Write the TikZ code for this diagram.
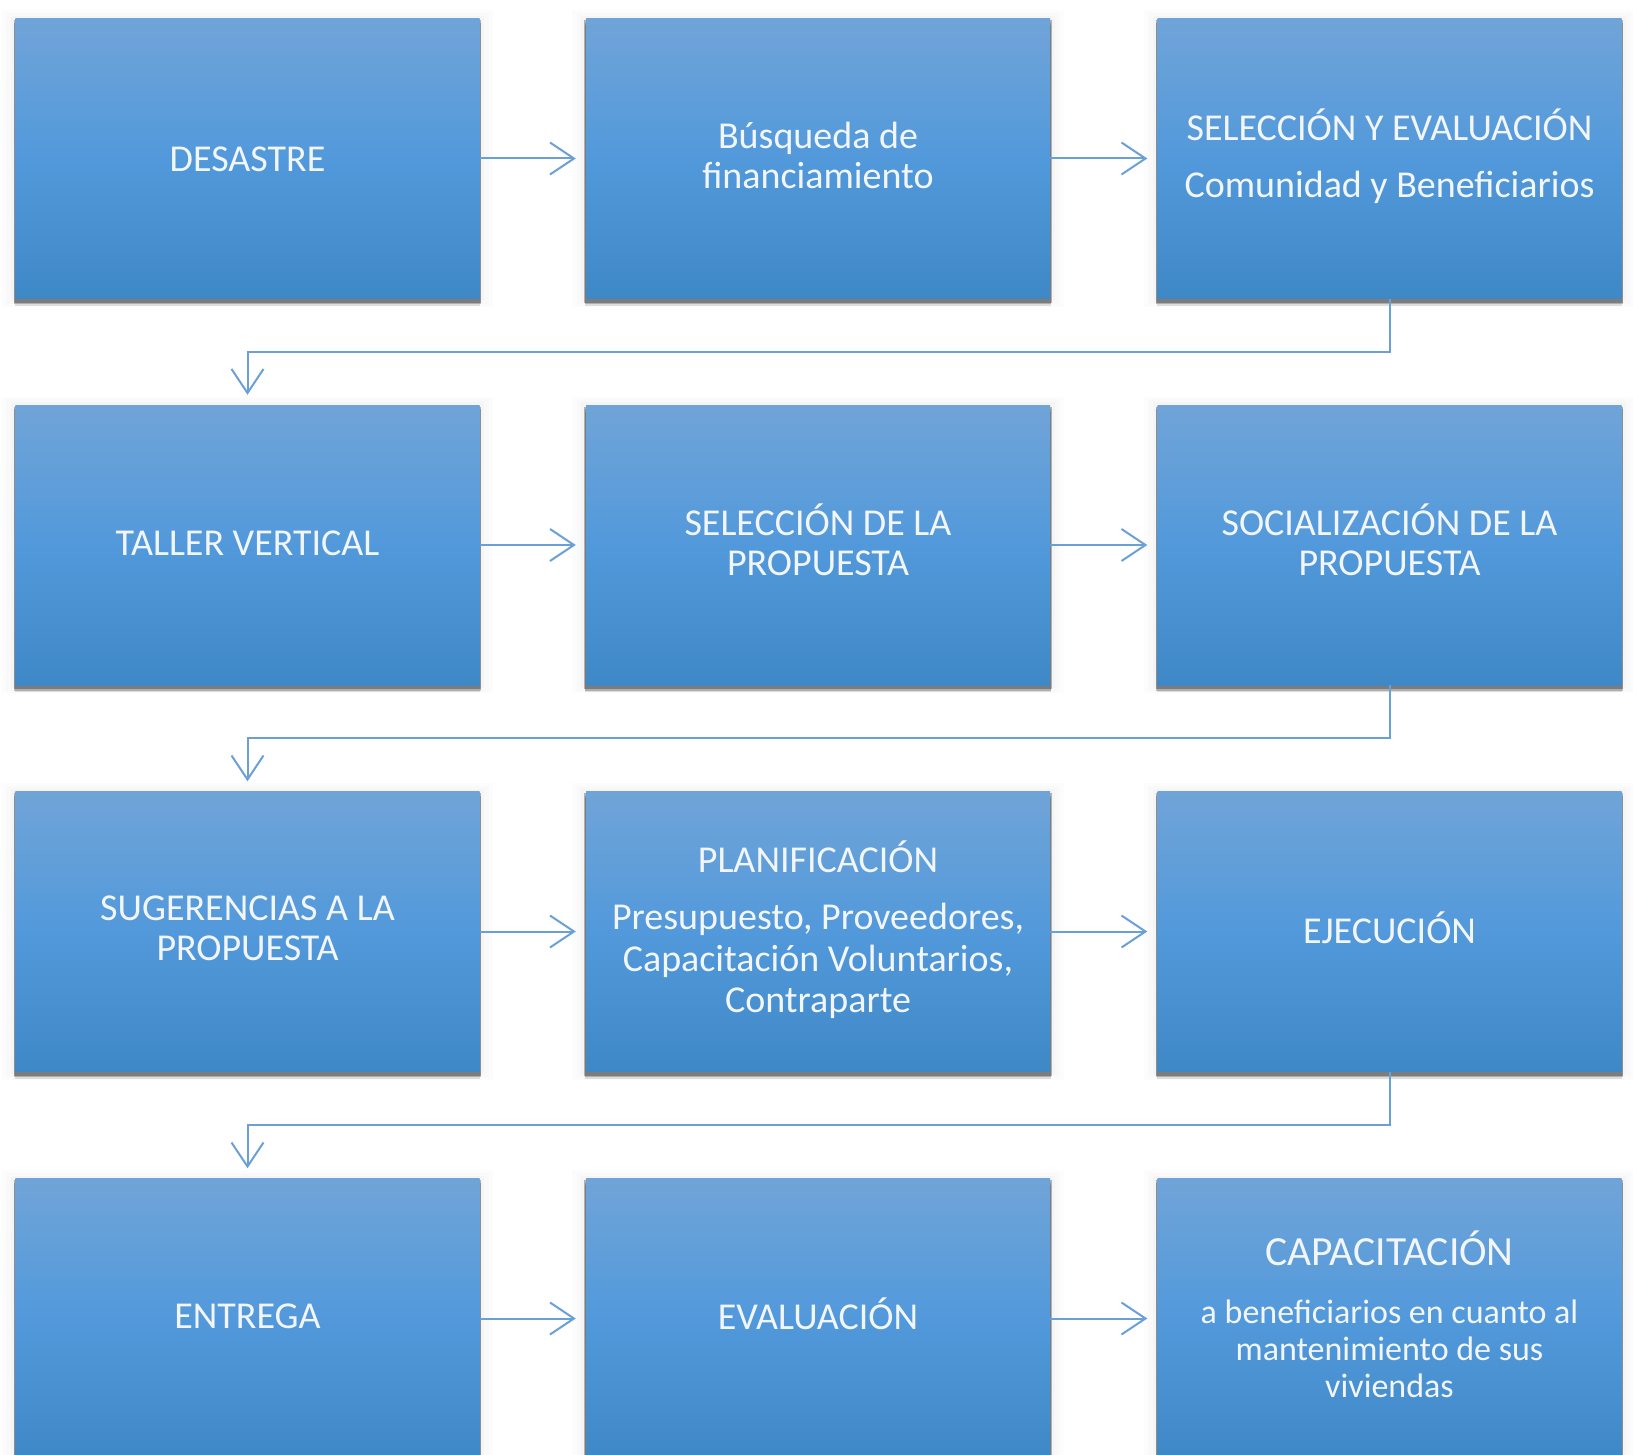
\documentclass[tikz,border=0pt]{standalone}
\usepackage{fontspec}
\setmainfont{Carlito}
\usetikzlibrary{arrows.meta,shadows,calc}
\definecolor{boxtop}{RGB}{112,164,216}
\definecolor{boxmid}{RGB}{82,153,219}
\definecolor{boxbot}{RGB}{63,136,198}
\definecolor{linkc}{RGB}{106,160,214}
\definecolor{txt}{RGB}{242,246,251}
\tikzset{
  stepbox/.style={minimum width=464bp, minimum height=280bp, inner sep=0pt,
    top color=boxtop, bottom color=boxbot, middle color=boxmid,
    general shadow={fill=black, opacity=.012, shadow scale=1.06},
    general shadow={fill=black, opacity=.012, shadow scale=1.04},
    general shadow={fill=black, opacity=.015, shadow scale=1.02},
    general shadow={fill=black, opacity=.12, shadow yshift=-7bp, shadow scale=1.003},
    general shadow={fill=black, opacity=.2, shadow yshift=-5bp, shadow scale=1.006},
    general shadow={fill=black, opacity=.28, shadow yshift=-3bp, shadow scale=1.008}},
  lbl/.style={text=txt, align=center, inner sep=0pt, font=\fontsize{38bp}{40bp}\selectfont},
  link/.style={draw=linkc, line width=2bp,
    -{Straight Barb[length=24bp,width=32bp,line width=2bp]}, shorten >=10bp}
}
\begin{document}
\begin{tikzpicture}[x=1bp,y=-1bp]
\clip (0,0) rectangle (1633,1455);
\fill[white] (0,0) rectangle (1633,1455);
% boxes
\node[stepbox] (a1) at (247.5,158.5) {};
\node[stepbox] (a2) at (818,158.5) {};
\node[stepbox] (a3) at (1389.5,158.5) {};
\node[stepbox] (b1) at (247.5,545) {};
\node[stepbox] (b2) at (818,545) {};
\node[stepbox] (b3) at (1389.5,545) {};
\node[stepbox] (c1) at (247.5,931.5) {};
\node[stepbox] (c2) at (818,931.5) {};
\node[stepbox] (c3) at (1389.5,931.5) {};
\node[stepbox] (d1) at (247.5,1318.5) {};
\node[stepbox] (d2) at (818,1318.5) {};
\node[stepbox] (d3) at (1389.5,1318.5) {};
% texts
\node[lbl] (a1l) at ([yshift=-1bp]a1.center) {DESASTRE};
\node[lbl] (a2l) at ([yshift=3bp]a2.center) {Búsqueda de\\financiamiento};
\node[lbl] (a3l) at ([yshift=2bp]a3.center) {SELECCIÓN Y EVALUACIÓN\\[17bp]Comunidad y Beneficiarios};
\node[lbl] (b1l) at ([yshift=2bp]b1.center) {TALLER VERTICAL};
\node[lbl] (b2l) at ([yshift=5bp]b2.center) {SELECCIÓN DE LA\\PROPUESTA};
\node[lbl] (b3l) at ([yshift=5bp]b3.center) {SOCIALIZACIÓN DE LA\\PROPUESTA};
\node[lbl] (c1l) at ([yshift=3bp]c1.center) {SUGERENCIAS A LA\\PROPUESTA};
\node[lbl] (c2l) at ([yshift=1.5bp]c2.center) {PLANIFICACIÓN\\[17bp]Presupuesto, Proveedores,\\[1.5bp]Capacitación Voluntarios,\\[1.5bp]Contraparte};
\node[lbl] (c3l) at ([yshift=4bp]c3.center) {EJECUCIÓN};
\node[lbl] (d1l) at ([yshift=2bp]d1.center) {ENTREGA};
\node[lbl] (d2l) at ([yshift=5bp]d2.center) {EVALUACIÓN};
\node[lbl, font=\fontsize{34bp}{37bp}\selectfont] (d3l) at ([yshift=4bp]d3.center)
  {{\fontsize{41.5bp}{42bp}\selectfont CAPACITACIÓN}\\[21bp]
  a beneficiarios en cuanto al\\
  mantenimiento de sus\\
  viviendas};
% horizontal connectors
\draw[link] (a1.east) -- (a2.west);
\draw[link] (a2.east) -- (a3.west);
\draw[link] (b1.east) -- (b2.west);
\draw[link] (b2.east) -- (b3.west);
\draw[link] (c1.east) -- (c2.west);
\draw[link] (c2.east) -- (c3.west);
\draw[link] (d1.east) -- (d2.west);
\draw[link] (d2.east) -- (d3.west);
% elbow connectors
\draw[link] (a3.south) -- ++(0,53) -| (b1.north);
\draw[link] (b3.south) -- ++(0,53) -| (c1.north);
\draw[link] (c3.south) -- ++(0,53) -| (d1.north);
\end{tikzpicture}
\end{document}
